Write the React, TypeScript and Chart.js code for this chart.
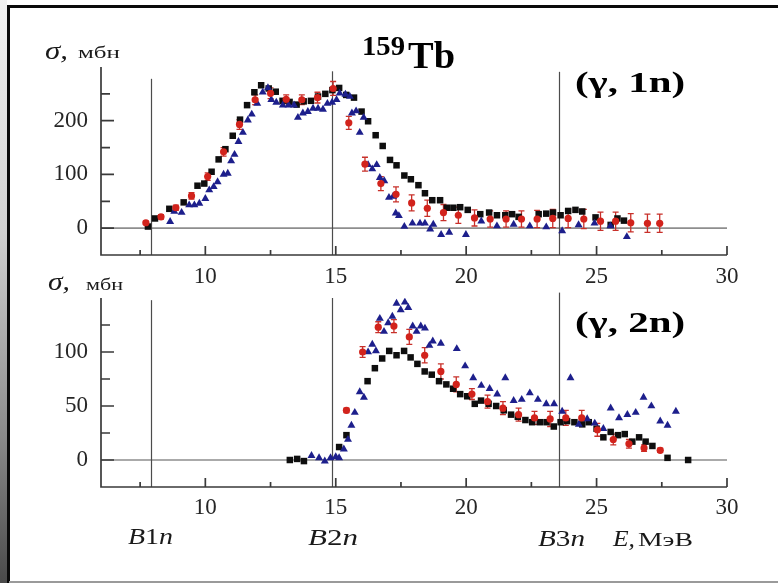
import React, { useEffect, useRef } from 'react';
import { Chart, registerables } from 'chart.js';

Chart.register(...registerables);

// ---------- axes ----------
const xTickValues = [10, 15, 20, 25, 30];
const xMinorValues = [7.5, 12.5, 17.5, 22.5, 27.5];
const yTicks1n = [0, 100, 200];
const yMinor1n = [50, 150, 250];
const yTicks2n = [0, 50, 100];
const yMinor2n = [25, 75, 125];
// separation thresholds B1n, B2n, B3n (MeV)
const thresholds = [7.9, 14.85, 23.55];

// ---------- (γ,1n) ----------
const sq1n: [number, number][] = [
  [7.8, 3], [8.07, 18], [8.62, 36], [9.17, 48], [9.7, 79], [9.96, 83], [10.24, 105], [10.51, 128],
  [10.77, 147], [11.05, 172], [11.33, 202], [11.6, 229], [11.88, 253], [12.14, 266], [12.43, 260],
  [12.7, 254], [12.96, 237], [13.23, 235], [13.5, 230], [13.77, 236], [14.05, 237], [14.32, 245],
  [14.6, 250], [14.87, 257], [15.13, 261], [15.4, 248], [15.7, 243], [15.99, 217], [16.24, 199],
  [16.53, 173], [16.8, 153], [17.08, 127], [17.33, 117], [17.63, 98], [17.88, 91], [18.17, 80],
  [18.42, 65], [18.7, 52], [19.0, 52], [19.26, 38], [19.51, 38], [19.77, 39], [20.06, 34],
  [20.54, 26], [20.88, 29], [21.18, 24], [21.5, 24], [21.76, 26], [22.01, 21], [22.78, 26],
  [23.07, 27], [23.33, 29], [23.62, 24], [23.91, 32], [24.19, 34], [24.45, 31], [24.96, 20],
  [25.54, 6], [25.8, 18], [26.05, 14],
];
const red1n: [number, number, number][] = [
  [7.72, 10, 3], [8.3, 21, 4], [8.87, 38, 5], [9.47, 60, 6], [10.09, 96, 7], [10.7, 142, 8],
  [11.31, 193, 9], [11.91, 239, 9], [12.5, 251, 10], [13.1, 240, 8], [13.7, 239, 9], [14.3, 243, 10],
  [14.9, 260, 13], [15.5, 196, 12], [16.12, 119, 13], [16.73, 83, 13], [17.31, 63, 14], [17.91, 47, 15],
  [18.51, 37, 15], [19.13, 29, 15], [19.7, 24, 15], [20.32, 19, 15], [20.92, 17, 15], [21.53, 17, 15],
  [22.12, 17, 15], [22.72, 17, 16], [23.32, 18, 17], [23.91, 18, 17], [24.51, 17, 18], [25.15, 13, 17],
  [25.73, 13, 17], [26.31, 10, 17], [26.95, 9, 17], [27.42, 9, 17],
];
const tri1n: [number, number][] = [
  [8.65, 12], [8.81, 31], [9.09, 29], [9.38, 43], [9.58, 43], [9.77, 46], [10.0, 55], [10.15, 71],
  [10.32, 77], [10.47, 86], [10.7, 100], [10.86, 102], [10.99, 125], [11.12, 137], [11.27, 161],
  [11.44, 178], [11.63, 201], [11.78, 212], [11.99, 232], [12.2, 253], [12.4, 261], [12.53, 239],
  [12.72, 234], [12.97, 229], [13.19, 229], [13.4, 229], [13.55, 206], [13.74, 214], [13.93, 217],
  [14.13, 223], [14.32, 223], [14.51, 221], [14.68, 232], [14.86, 234], [15.03, 239], [15.15, 251],
  [15.37, 249], [15.54, 245], [15.62, 214], [15.78, 218], [15.92, 178], [16.07, 206], [16.24, 118],
  [16.4, 110], [16.57, 118], [16.69, 94], [16.86, 88], [17.04, 57], [17.2, 59], [17.3, 28],
  [17.42, 23], [17.63, 3], [17.94, 9], [18.23, 9], [18.42, 9], [18.62, -2], [18.74, 7], [19.04, -12],
  [19.35, -8], [19.99, -12], [20.58, 13], [21.18, 4], [21.82, 7], [22.44, 4], [23.07, 2], [23.68, -5],
  [24.31, 6], [24.92, 9], [25.53, 4], [26.16, -16],
];

// ---------- (γ,2n) ----------
const sq2n: [number, number][] = [
  [13.24, 0], [13.52, 1], [13.78, -1], [15.13, 12], [15.41, 23], [16.22, 73], [16.5, 85], [16.78, 94],
  [17.05, 101], [17.33, 97], [17.62, 101], [17.87, 95], [18.13, 89], [18.41, 82], [18.68, 79],
  [18.96, 73], [19.24, 70], [19.5, 66], [19.77, 61], [20.04, 59], [20.33, 52], [20.57, 55],
  [20.86, 52], [21.15, 50], [21.44, 46], [21.72, 42], [21.98, 40], [22.27, 37], [22.53, 35],
  [22.82, 35], [23.08, 35], [23.36, 31], [23.62, 35], [23.87, 36], [24.15, 35], [24.45, 33],
  [24.7, 35], [25.0, 29], [25.26, 21], [25.54, 26], [25.82, 23], [26.08, 24], [26.37, 17],
  [26.63, 21], [26.88, 17], [27.14, 13], [27.72, 2], [28.51, 0],
];
const red2n: [number, number, number][] = [
  [15.41, 46, 2], [16.03, 100, 5], [16.63, 123, 5], [17.23, 124, 6], [17.82, 114, 7], [18.41, 97, 7],
  [19.03, 82, 7], [19.62, 70, 7], [20.22, 61, 5], [20.82, 54, 6], [21.41, 48, 6], [22.01, 42, 6],
  [22.62, 39, 6], [23.22, 38, 7], [23.82, 39, 7], [24.43, 39, 7], [25.03, 28, 6], [25.64, 19, 5],
  [26.24, 15, 4], [26.82, 11, 3], [27.44, 9, 2],
];
const tri2n: [number, number][] = [
  [14.07, 4], [14.36, 2], [14.58, -1], [14.8, 2], [15.0, 3], [15.13, 2], [15.31, 10], [15.47, 19],
  [15.6, 32], [15.73, 44], [15.92, 63], [16.08, 58], [16.24, 100], [16.4, 107], [16.54, 101],
  [16.69, 131], [16.85, 119], [17.01, 127], [17.17, 133], [17.33, 145], [17.49, 139], [17.65, 146],
  [17.78, 141], [17.95, 124], [18.1, 119], [18.26, 124], [18.42, 122], [18.59, 106], [18.72, 110],
  [19.03, 108], [19.64, 103], [19.96, 87], [20.27, 76], [20.58, 69], [20.9, 66], [21.19, 61],
  [21.5, 76], [21.82, 55], [22.13, 56], [22.44, 62], [22.75, 56], [23.07, 52], [23.37, 52],
  [23.68, 45], [24.0, 76], [24.32, 33], [24.64, 38], [24.93, 34], [25.26, 29], [25.54, 48],
  [25.86, 39], [26.18, 42], [26.5, 44], [26.8, 58], [27.1, 50], [27.44, 36], [27.72, 32], [28.04, 45],
];

const SERIF = "'Liberation Serif', 'Times New Roman', serif";
const BLACK = '#0e0e0e';
const RED = '#d2231c';
const BLUE = '#1d1f8c';

type PanelCfg = {
  yMin: number;
  yMax: number;
  yTicks: number[];
  yMinor: number[];
  lineTops: number[];
  sq: [number, number][];
  red: [number, number, number][];
  tri: [number, number][];
  padTop: number;
  xAxisHeight: number;
  xPad: number;
};

function makeAxesPlugin(cfg: PanelCfg) {
  return {
    id: 'sketchAxes',
    beforeDatasetsDraw(chart: any) {
      const { ctx, chartArea } = chart;
      const xs = chart.scales.x;
      const ys = chart.scales.y;
      const L = chartArea.left, R = chartArea.right, B = chartArea.bottom, T = chartArea.top;
      ctx.save();
      // zero line
      ctx.strokeStyle = '#8e8e8e';
      ctx.lineWidth = 1.6;
      const y0 = ys.getPixelForValue(0);
      ctx.beginPath();
      ctx.moveTo(L, y0);
      ctx.lineTo(R, y0);
      ctx.stroke();
      // threshold lines
      ctx.strokeStyle = '#4c4c4c';
      ctx.lineWidth = 1.2;
      thresholds.forEach((e, i) => {
        const px = Math.round(xs.getPixelForValue(e)) + 0.5;
        ctx.beginPath();
        ctx.moveTo(px, ys.getPixelForValue(cfg.lineTops[i]));
        ctx.lineTo(px, B);
        ctx.stroke();
      });
      // axes
      ctx.strokeStyle = '#3a3a3a';
      ctx.lineWidth = 1.7;
      ctx.beginPath();
      ctx.moveTo(L, T);
      ctx.lineTo(L, B);
      ctx.lineTo(R, B);
      ctx.stroke();
      // x ticks (pointing up)
      ctx.beginPath();
      xTickValues.forEach((v) => {
        const px = xs.getPixelForValue(v);
        ctx.moveTo(px, B);
        ctx.lineTo(px, B - 9);
      });
      xMinorValues.forEach((v) => {
        const px = xs.getPixelForValue(v);
        ctx.moveTo(px, B);
        ctx.lineTo(px, B - 5);
      });
      // y ticks (pointing right)
      cfg.yTicks.forEach((v) => {
        const py = ys.getPixelForValue(v);
        ctx.moveTo(L, py);
        ctx.lineTo(L + 13, py);
      });
      cfg.yMinor.forEach((v) => {
        const py = ys.getPixelForValue(v);
        ctx.moveTo(L, py);
        ctx.lineTo(L + 9, py);
      });
      ctx.stroke();
      // error bars
      ctx.strokeStyle = '#c8302a';
      ctx.lineWidth = 1.3;
      ctx.beginPath();
      cfg.red.forEach(([e, s, err]) => {
        const px = xs.getPixelForValue(e);
        const pt = ys.getPixelForValue(s + err);
        const pb = ys.getPixelForValue(s - err);
        ctx.moveTo(px, pt);
        ctx.lineTo(px, pb);
        ctx.moveTo(px - 3, pt);
        ctx.lineTo(px + 3, pt);
        ctx.moveTo(px - 3, pb);
        ctx.lineTo(px + 3, pb);
      });
      ctx.stroke();
      ctx.restore();
    },
  };
}

function Panel({ cfg, width, height }: { cfg: PanelCfg; width: number; height: number }) {
  const ref = useRef<HTMLCanvasElement | null>(null);
  useEffect(() => {
    if (!ref.current) return;
    const tickFont = { family: SERIF, size: 23 };
    const chart = new Chart(ref.current, {
      type: 'scatter',
      data: {
        datasets: [
          {
            label: 'red',
            data: cfg.red.map(([x, y]) => ({ x, y })),
            pointStyle: 'circle',
            pointRadius: 3.6,
            backgroundColor: RED,
            borderColor: RED,
            borderWidth: 0,
          },
          {
            label: 'blue',
            data: cfg.tri.map(([x, y]) => ({ x, y })),
            pointStyle: 'triangle',
            pointRadius: 4.6,
            backgroundColor: BLUE,
            borderColor: BLUE,
            borderWidth: 0,
          },
          {
            label: 'black',
            data: cfg.sq.map(([x, y]) => ({ x, y })),
            pointStyle: 'rect',
            pointRadius: 4.6,
            backgroundColor: BLACK,
            borderColor: BLACK,
            borderWidth: 0,
          },
        ],
      },
      options: {
        responsive: false,
        animation: false,
        events: [],
        layout: { padding: { left: 0, right: 51, top: cfg.padTop, bottom: 0 } },
        plugins: { legend: { display: false }, tooltip: { enabled: false } },
        scales: {
          x: {
            type: 'linear',
            min: 6,
            max: 30,
            afterBuildTicks: (a: any) => {
              a.ticks = xTickValues.map((v) => ({ value: v }));
            },
            afterFit: (s: any) => {
              s.height = cfg.xAxisHeight;
              s.paddingLeft = 0;
              s.paddingRight = 0;
            },
            grid: { display: false, drawTicks: false },
            border: { display: false },
            ticks: { font: tickFont, color: '#262626', padding: cfg.xPad, maxRotation: 0, autoSkip: false },
          },
          y: {
            type: 'linear',
            min: cfg.yMin,
            max: cfg.yMax,
            afterBuildTicks: (a: any) => {
              a.ticks = cfg.yTicks.map((v) => ({ value: v }));
            },
            afterFit: (s: any) => {
              s.width = 101;
              s.paddingTop = 0;
              s.paddingBottom = 0;
            },
            grid: { display: false, drawTicks: false },
            border: { display: false },
            ticks: { font: tickFont, color: '#262626', padding: 13, autoSkip: false },
          },
        },
      } as any,
      plugins: [makeAxesPlugin(cfg)],
    });
    return () => chart.destroy();
  }, [cfg]);
  return <canvas ref={ref} width={width} height={height} style={{ display: 'block' }} />;
}

const topCfg: PanelCfg = {
  yMin: -50,
  yMax: 300,
  yTicks: yTicks1n,
  yMinor: yMinor1n,
  lineTops: [278, 292, 291],
  sq: sq1n,
  red: red1n,
  tri: tri1n,
  padTop: 67,
  xAxisHeight: 35,
  xPad: 8,
};
const bottomCfg: PanelCfg = {
  yMin: -25,
  yMax: 150,
  yTicks: yTicks2n,
  yMinor: yMinor2n,
  lineTops: [148, 150, 155],
  sq: sq2n,
  red: red2n,
  tri: tri2n,
  padTop: 8,
  xAxisHeight: 96,
  xPad: 7,
};

export default function App() {
  const txt = { fontFamily: SERIF, fill: '#1a1a1a' } as any;
  return (
    <div style={{ position: 'absolute', left: 0, top: 0, width: 778, height: 583, overflow: 'hidden', background: '#fff' }}>
      <div style={{ position: 'absolute', left: 0, top: 0 }}>
        <Panel cfg={topCfg} width={778} height={290} />
      </div>
      <div style={{ position: 'absolute', left: 0, top: 290 }}>
        <Panel cfg={bottomCfg} width={778} height={293} />
      </div>
      {/* frame */}
      <div style={{ position: 'absolute', left: 0, top: 0, width: 7, height: 583, background: 'linear-gradient(to bottom, #f2f2f2 0%, #d0d0d0 40%, #8a8a8a 75%, #4a4a4a 100%)' }} />
      <div style={{ position: 'absolute', left: 7, top: 5, width: 2.5, height: 578, background: '#0a0a0a' }} />
      <div style={{ position: 'absolute', left: 7, top: 5, width: 771, height: 3, background: '#0a0a0a' }} />
      <div style={{ position: 'absolute', left: 9, top: 581, width: 769, height: 2, background: '#9a9a9a' }} />
      <svg width={778} height={583} style={{ position: 'absolute', left: 0, top: 0, pointerEvents: 'none' }}>
        {/* top panel */}
        <text {...txt} x={45} y={59} fontSize={25} fontStyle="italic" textLength={23} lengthAdjust="spacingAndGlyphs">σ,</text>
        <text {...txt} x={78} y={58} fontSize={17} textLength={42} lengthAdjust="spacingAndGlyphs">мбн</text>
        <text {...txt} x={362} y={55} fontSize={27} fontWeight="bold" fill="#000" textLength={43} lengthAdjust="spacingAndGlyphs">159</text>
        <text {...txt} x={408} y={68} fontSize={38} fontWeight="bold" fill="#000" textLength={47} lengthAdjust="spacingAndGlyphs">Tb</text>
        <text {...txt} x={575} y={92} fontSize={30} fontWeight="bold" fill="#000" textLength={110} lengthAdjust="spacingAndGlyphs">(γ, 1n)</text>
        {/* bottom panel */}
        <text {...txt} x={48} y={290} fontSize={25} fontStyle="italic" textLength={22} lengthAdjust="spacingAndGlyphs">σ,</text>
        <text {...txt} x={86} y={290} fontSize={17} textLength={37} lengthAdjust="spacingAndGlyphs">мбн</text>
        <text {...txt} x={575} y={332} fontSize={30} fontWeight="bold" fill="#000" textLength={110} lengthAdjust="spacingAndGlyphs">(γ, 2n)</text>
        <text {...txt} x={128} y={544} fontSize={24} textLength={45} lengthAdjust="spacingAndGlyphs">
          <tspan fontStyle="italic">B</tspan>1<tspan fontStyle="italic">n</tspan>
        </text>
        <text {...txt} x={308} y={545} fontSize={24} textLength={50} lengthAdjust="spacingAndGlyphs">
          <tspan fontStyle="italic">B</tspan>2<tspan fontStyle="italic">n</tspan>
        </text>
        <text {...txt} x={538} y={546} fontSize={24} textLength={47} lengthAdjust="spacingAndGlyphs">
          <tspan fontStyle="italic">B</tspan>3<tspan fontStyle="italic">n</tspan>
        </text>
        <text {...txt} x={613} y={546} fontSize={24} fontStyle="italic" textLength={22} lengthAdjust="spacingAndGlyphs">E,</text>
        <text {...txt} x={638} y={546} fontSize={18} textLength={55} lengthAdjust="spacingAndGlyphs">МэВ</text>
      </svg>
    </div>
  );
}
